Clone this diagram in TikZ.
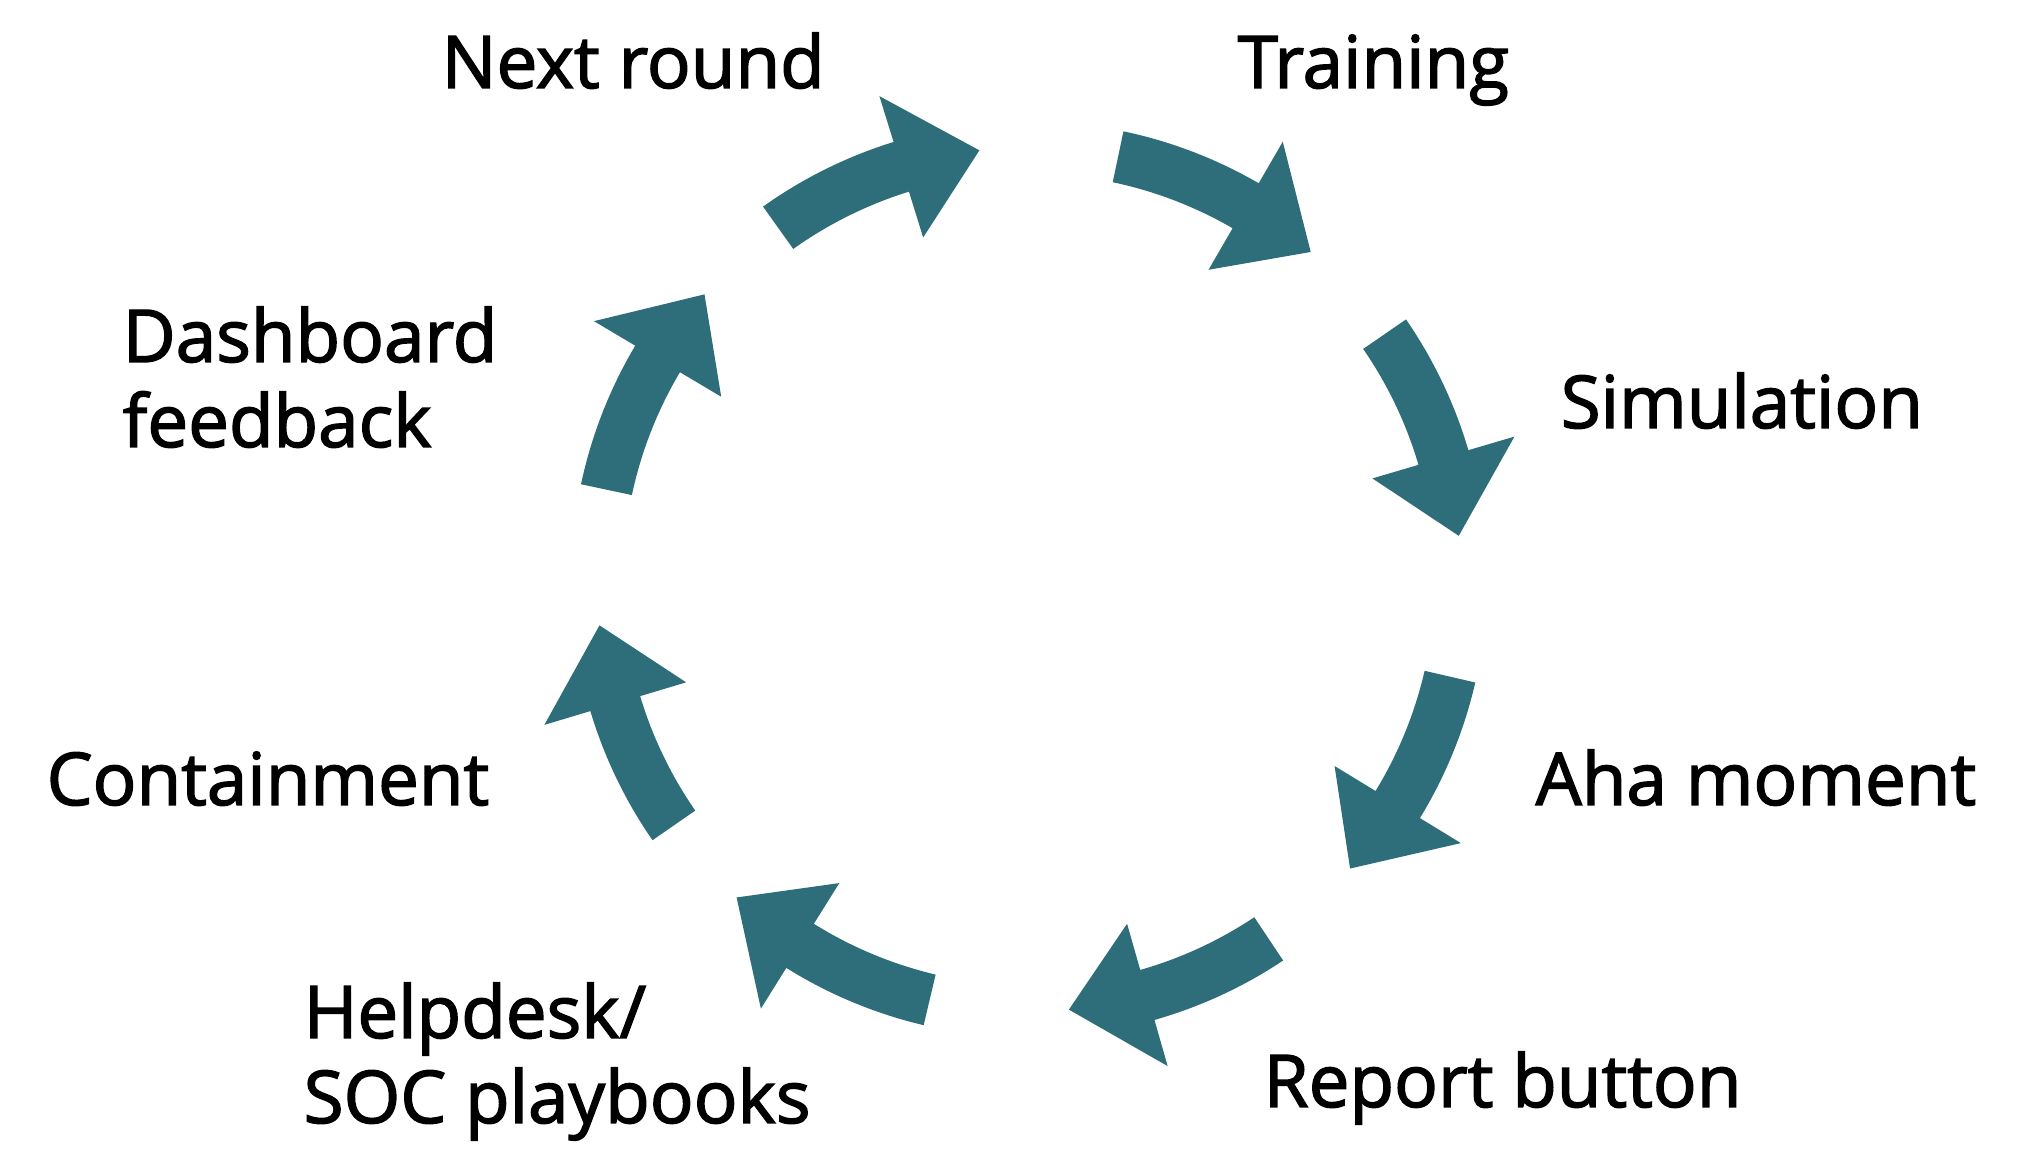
\documentclass[tikz,border=0pt]{standalone}
\usepackage{fontspec}
\setmainfont{Open Sans}[FakeBold=2]
\usetikzlibrary{calc}
\definecolor{cycleteal}{RGB}{46,110,122}
\tikzset{
    cyclearrow/.style={fill=cycleteal},
    steplabel/.style={font=\fontsize{20.7}{24.2}\selectfont, anchor=base west, inner sep=0pt, align=left},
}
% curved arrow on the ring: #1 tail angle, #2 tip angle
\newcommand{\cyclearrow}[2]{%
    \fill[cyclearrow] ($(C)+(#1:4.58)$) arc[start angle=#1, end angle=#2+10.6, radius=4.58]
        -- ($(C)+(#2+10.6:5.06)$) -- ($(C)+(#2:4.32)$) -- ($(C)+(#2+10.6:3.58)$)
        -- ($(C)+(#2+10.6:4.06)$) arc[start angle=#2+10.6, end angle=#1, radius=4.06] -- cycle;}

\begin{document}
\begin{tikzpicture}
    \useasboundingbox (0,0) rectangle (20.42,11.56);
    \coordinate (C) at (10.29,5.765);

    % Arrows
    \cyclearrow{125.5}{96.6}
    \cyclearrow{78.1}{49.3}
    \cyclearrow{34.6}{5.8}
    \cyclearrow{-13}{-42}
    \cyclearrow{-56.3}{-84.7}
    \cyclearrow{-103.3}{-132.6}
    \cyclearrow{-145.3}{-173.9}
    \cyclearrow{168}{138.7}

    % Labels (two-line ones sit on their last line)
    \node[steplabel] (next) at (4.41,10.68) {Next round};
    \node[steplabel] (training) at (12.37,10.68) {Training};
    \node[steplabel] (simulation) at (15.60,7.28) {Simulation};
    \node[steplabel] (aha) at (15.35,3.51) {Aha moment};
    \node[steplabel] (report) at (12.63,0.49) {Report button};
    \node[steplabel] (helpdesk) at (3.03,0.33) {Helpdesk/\\SOC playbooks};
    \node[steplabel] (containment) at (0.46,3.51) {Containment};
    \node[steplabel] (dashboard) at (1.22,7.09) {Dashboard\\feedback};
\end{tikzpicture}
\end{document}
